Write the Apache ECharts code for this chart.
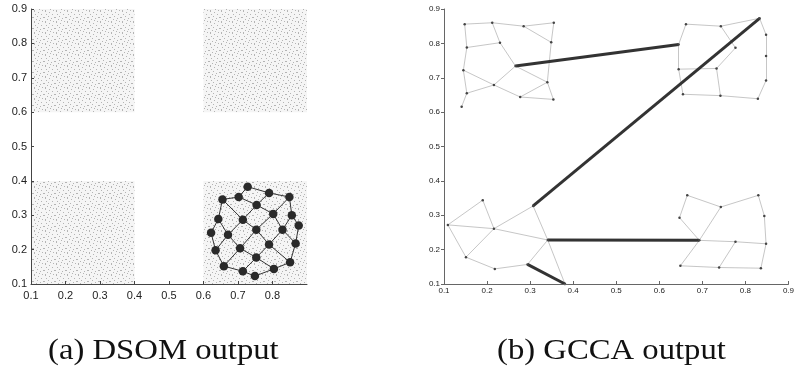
<!DOCTYPE html>
<html>
<head>
<meta charset="utf-8">
<script src="https://cdn.jsdelivr.net/npm/echarts@6/dist/echarts.min.js"></script>
<style>
  html, body { margin: 0; padding: 0; background: #fff; }
  #main { width: 797px; height: 371px; }
</style>
</head>
<body>
<div id="main"></div>
<script>
// axis ticks (both panels)
var tickMin = 0.1, tickMax = 0.9, tickStep = 0.1;

// (a) input data regions: [x0, y0, x1, y1]
var dataSquares = [
  [0.1, 0.6, 0.4, 0.9],
  [0.6, 0.6, 0.9, 0.9],
  [0.1, 0.1, 0.4, 0.4],
  [0.6, 0.1, 0.9, 0.4]
];

// (a) DSOM 5x5 map, row by row
var dsomRow0 = [[0.728, 0.383], [0.790, 0.365], [0.849, 0.353], [0.856, 0.300], [0.876, 0.270]];
var dsomRow1 = [[0.702, 0.353], [0.754, 0.330], [0.802, 0.304], [0.829, 0.258], [0.867, 0.218]];
var dsomRow2 = [[0.655, 0.346], [0.714, 0.287], [0.753, 0.258], [0.790, 0.215], [0.851, 0.163]];
var dsomRow3 = [[0.643, 0.289], [0.671, 0.243], [0.706, 0.204], [0.753, 0.177], [0.804, 0.144]];
var dsomRow4 = [[0.622, 0.249], [0.635, 0.198], [0.659, 0.152], [0.714, 0.137], [0.749, 0.123]];

// (b) GCCA nodes
var gccaNodes = [
  // top left cluster (0-14)
  [0.148, 0.856], [0.212, 0.860], [0.285, 0.850], [0.355, 0.860], [0.153, 0.788],
  [0.230, 0.802], [0.349, 0.803], [0.266, 0.734], [0.145, 0.722], [0.216, 0.679],
  [0.340, 0.687], [0.153, 0.655], [0.277, 0.644], [0.354, 0.637], [0.141, 0.616],
  // top right cluster (15-27)
  [0.662, 0.856], [0.743, 0.850], [0.833, 0.873], [0.848, 0.825], [0.848, 0.763],
  [0.848, 0.692], [0.829, 0.639], [0.742, 0.648], [0.655, 0.652], [0.645, 0.725],
  [0.733, 0.727], [0.777, 0.787], [0.645, 0.797],
  // bottom left cluster (28-36)
  [0.109, 0.272], [0.190, 0.344], [0.216, 0.261], [0.307, 0.327], [0.341, 0.228],
  [0.151, 0.178], [0.218, 0.144], [0.294, 0.157], [0.381, 0.100],
  // bottom right cluster (37-47)
  [0.665, 0.358], [0.647, 0.293], [0.743, 0.324], [0.830, 0.358], [0.844, 0.298],
  [0.693, 0.227], [0.777, 0.223], [0.848, 0.217], [0.649, 0.153], [0.739, 0.148],
  [0.836, 0.146]
];

// (b) thin edges inside clusters
var gccaEdges = [
  [0, 1], [1, 2], [2, 3], [2, 6], [3, 6], [0, 4], [4, 5], [1, 5], [5, 7], [6, 10],
  [4, 8], [8, 11], [8, 9], [9, 7], [9, 11], [7, 10], [10, 12], [12, 13], [10, 13],
  [11, 14], [9, 12],
  [15, 16], [16, 17], [17, 18], [18, 19], [19, 20], [20, 21], [21, 22], [22, 23],
  [23, 24], [24, 27], [27, 15], [24, 25], [25, 22], [25, 26], [26, 16],
  [28, 29], [29, 30], [28, 30], [30, 32], [30, 31], [31, 32], [32, 36], [28, 33],
  [33, 30], [33, 34], [34, 35], [35, 32],
  [37, 38], [37, 39], [39, 40], [40, 41], [41, 44], [38, 42], [39, 42], [42, 43],
  [43, 44], [43, 46], [42, 45], [45, 46], [46, 47], [47, 44]
];

// (b) thick edges between clusters
var gccaBridges = [[7, 27], [17, 31], [32, 42], [35, 36]];

// build DSOM graph from the grid
var dsomRows = [dsomRow0, dsomRow1, dsomRow2, dsomRow3, dsomRow4];
var dsomNodes = [];
var dsomLinks = [];
dsomRows.forEach(function (row, i) {
  row.forEach(function (p, j) {
    dsomNodes.push(p);
    var k = i * 5 + j;
    if (j < 4) dsomLinks.push({ source: k, target: k + 1 });
    if (i < 4) dsomLinks.push({ source: k, target: k + 5 });
  });
});

var gccaLinks = gccaEdges.map(function (e) {
  return { source: e[0], target: e[1] };
}).concat(gccaBridges.map(function (e) {
  return { source: e[0], target: e[1], lineStyle: { width: 3, color: '#333', opacity: 1 } };
}));

// speckle texture for the sample squares (fixed dot layout in a small tile)
var speckDots = [[1, 0], [5, 1], [8, 3], [2, 3], [0, 6], [4, 5], [7, 7], [3, 8], [6, 9], [9, 10], [1, 10], [10, 6]];
var tile = document.createElement('canvas');
tile.width = 11; tile.height = 11;
var tctx = tile.getContext('2d');
tctx.fillStyle = '#f5f5f5';
tctx.fillRect(0, 0, 11, 11);
tctx.fillStyle = '#b4b4b4';
speckDots.forEach(function (d) { tctx.fillRect(d[0], d[1], 1, 1); });

function fmt(v) { return v.toFixed(1); }

function axisPair(idx, fontSize, color, xMargin, yMargin, yTickInside, showMax) {
  return {
    x: {
      type: 'value', gridIndex: idx, min: tickMin, max: tickMax, interval: tickStep, z: 10,
      axisLine: { lineStyle: { color: color, width: 1 } },
      axisTick: { inside: true, length: 3, lineStyle: { color: color } },
      axisLabel: { formatter: fmt, fontSize: fontSize, color: '#222', margin: xMargin,
        fontFamily: 'Liberation Sans', showMaxLabel: showMax },
      splitLine: { show: false }
    },
    y: {
      type: 'value', gridIndex: idx, min: tickMin, max: tickMax, interval: tickStep, z: 10,
      axisLine: { lineStyle: { color: color, width: 1 } },
      axisTick: { inside: yTickInside, length: 3, lineStyle: { color: color } },
      axisLabel: { formatter: fmt, fontSize: fontSize, color: '#222', margin: yMargin,
        fontFamily: 'Liberation Sans' },
      splitLine: { show: false }
    }
  };
}

var a = axisPair(0, 11, '#444', 6, 4, true, false);
var b = axisPair(1, 8, '#666', 3, 4, false, true);

var chart = echarts.init(document.getElementById('main'));
chart.setOption({
  animation: false,
  backgroundColor: '#fff',
  grid: [
    { left: 31, top: 9, width: 276, height: 275 },
    { left: 444, top: 9, width: 350, height: 275 }
  ],
  xAxis: [a.x, b.x],
  yAxis: [a.y, b.y],
  series: [
    {
      type: 'scatter', xAxisIndex: 0, yAxisIndex: 0, data: [], silent: true, z: 1,
      markArea: {
        silent: true,
        itemStyle: { color: { image: tile, repeat: 'repeat' } },
        data: dataSquares.map(function (s) {
          return [{ coord: [s[0], s[1]] }, { coord: [s[2], s[3]] }];
        })
      }
    },
    {
      type: 'graph', coordinateSystem: 'cartesian2d', xAxisIndex: 0, yAxisIndex: 0,
      silent: true, z: 3,
      symbol: 'circle', symbolSize: 8.5,
      itemStyle: { color: '#2a2a2a' },
      lineStyle: { color: '#333', width: 1, opacity: 1 },
      data: dsomNodes, links: dsomLinks
    },
    {
      type: 'graph', coordinateSystem: 'cartesian2d', xAxisIndex: 1, yAxisIndex: 1,
      silent: true, z: 3,
      symbol: 'circle', symbolSize: 2.5,
      itemStyle: { color: '#444' },
      lineStyle: { color: '#b8b8b8', width: 0.8, opacity: 1 },
      data: gccaNodes, links: gccaLinks
    }
  ],
  graphic: [
    { type: 'text', x: 48, y: 351, scaleX: 1.09,
      style: { text: '(a) DSOM output', font: '30px "Liberation Serif"', fill: '#111',
        textVerticalAlign: 'middle' } },
    { type: 'text', x: 497, y: 351, scaleX: 1.09,
      style: { text: '(b) GCCA output', font: '30px "Liberation Serif"', fill: '#111',
        textVerticalAlign: 'middle' } }
  ]
});
</script>
</body>
</html>
